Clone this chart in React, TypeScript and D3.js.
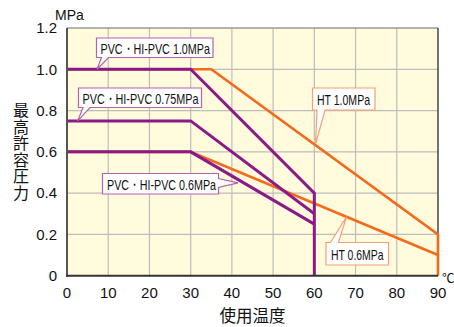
import React from "react";
import * as d3 from "d3";

const xTicks = [0, 10, 20, 30, 40, 50, 60, 70, 80, 90];
const yTicks = [0, 0.2, 0.4, 0.6, 0.8, 1.0, 1.2];
const yTickLabels = ["0", "0.2", "0.4", "0.6", "0.8", "1.0", "1.2"];

const pvc10T = [0, 30, 60, 60];
const pvc10P = [1.0, 1.0, 0.4, 0];
const pvc075T = [0, 30, 60];
const pvc075P = [0.75, 0.75, 0.3];
const pvc06T = [0, 30, 60];
const pvc06P = [0.6, 0.6, 0.25];
const ht10T = [0, 35, 90, 90];
const ht10P = [1.0, 1.0, 0.2, 0];
const ht06T = [0, 30, 90];
const ht06P = [0.6, 0.6, 0.1];

const labels = ["PVC・HI-PVC  1.0MPa", "PVC・HI-PVC  0.75MPa", "PVC・HI-PVC  0.6MPa", "HT 1.0MPa", "HT 0.6MPa"];
const labelTipT = [7.3, 2.6, 41.5, 60.3, 67.8];
const labelTipP = [1.0, 0.75, 0.45, 0.637, 0.285];

const PURPLE = "#8A1A88";
const ORANGE = "#F26A1A";
const PURPLE_BOX = "#B262B2";
const ORANGE_BOX = "#F5A070";

const W = 454, H = 327;
const x = d3.scaleLinear().domain([0, 90]).range([67, 438]);
const y = d3.scaleLinear().domain([0, 1.2]).range([275.7, 28]);

const zip = (t: number[], p: number[]) => t.map((v, i) => [v, p[i]] as [number, number]);
const line = d3.line<[number, number]>().x(d => x(d[0])).y(d => y(d[1]));

type Box = { x0: number; y0: number; x1: number; y1: number; side: string; b0: number; b1: number; tx: number; ty: number; stroke: string; textX: number; textBase: number; textLen: number };

function calloutPath(b: Box) {
  const { x0, y0, x1, y1, b0, b1, tx, ty } = b;
  if (b.side === "bottom") return `M${x0},${y0}H${x1}V${y1}H${b1}L${tx},${ty}L${b0},${y1}H${x0}Z`;
  if (b.side === "top") return `M${x0},${y0}H${b0}L${tx},${ty}L${b1},${y0}H${x1}V${y1}H${x0}Z`;
  return `M${x0},${y0}H${x1}V${b0}L${tx},${ty}L${x1},${b1}V${y1}H${x0}Z`;
}

export default function App() {
  const boxes: Box[] = [
    { x0: 96.5, y0: 38, x1: 213, y1: 57.5, side: "bottom", b0: 101.5, b1: 108.5, tx: x(labelTipT[0]), ty: y(labelTipP[0]), stroke: PURPLE_BOX, textX: 100.5, textBase: 53.5, textLen: 109.5 },
    { x0: 78.5, y0: 88, x1: 201.5, y1: 107.5, side: "bottom", b0: 83, b1: 90, tx: x(labelTipT[1]), ty: y(labelTipP[1]), stroke: PURPLE_BOX, textX: 82.5, textBase: 103.5, textLen: 116 },
    { x0: 102.5, y0: 173.5, x1: 218.5, y1: 194, side: "right", b0: 178.5, b1: 187.5, tx: x(labelTipT[2]), ty: y(labelTipP[2]), stroke: PURPLE_BOX, textX: 107, textBase: 189.5, textLen: 109 },
    { x0: 312.5, y0: 88, x1: 375, y1: 110, side: "bottom", b0: 317, b1: 325, tx: x(labelTipT[3]), ty: y(labelTipP[3]), stroke: ORANGE_BOX, textX: 317, textBase: 105, textLen: 53 },
    { x0: 326, y0: 242.5, x1: 388.5, y1: 265, side: "top", b0: 330.5, b1: 338.5, tx: x(labelTipT[4]), ty: y(labelTipP[4]), stroke: ORANGE_BOX, textX: 331, textBase: 260, textLen: 52.5 },
  ];
  const font = "'Liberation Sans', Arial, Helvetica, sans-serif";
  const cjk = "'Noto Sans CJK JP', 'Noto Sans CJK SC', sans-serif";
  return (
    <svg width={W} height={H} viewBox={`0 0 ${W} ${H}`} style={{ position: "absolute", left: 0, top: 0, background: "#fff" }}>
      <rect x={x(0)} y={y(1.2)} width={x(90) - x(0)} height={y(0) - y(1.2)} fill="#FFFBDC" />
      {xTicks.slice(1, -1).map(t => (
        <line key={"gx" + t} x1={x(t)} x2={x(t)} y1={y(0)} y2={y(1.2)} stroke="#BDBDBD" strokeWidth={1.2} />
      ))}
      {yTicks.slice(1, -1).map(t => (
        <line key={"gy" + t} x1={x(0)} x2={x(90)} y1={y(t)} y2={y(t)} stroke="#BDBDBD" strokeWidth={1.2} />
      ))}
      <line x1={x(0)} x2={x(90)} y1={y(1.2)} y2={y(1.2)} stroke="#9a9a9a" strokeWidth={1.5} />
      <line x1={x(90)} x2={x(90)} y1={y(0)} y2={y(1.2)} stroke="#444" strokeWidth={1.5} />
      <path d={line(zip(ht10T, ht10P)) || ""} fill="none" stroke={ORANGE} strokeWidth={2.6} />
      <path d={line(zip(ht06T, ht06P)) || ""} fill="none" stroke={ORANGE} strokeWidth={2.6} />
      <path d={line(zip(pvc06T, pvc06P)) || ""} fill="none" stroke={PURPLE} strokeWidth={3} />
      <path d={line(zip(pvc075T, pvc075P)) || ""} fill="none" stroke={PURPLE} strokeWidth={3} />
      <path d={line(zip(pvc10T, pvc10P)) || ""} fill="none" stroke={PURPLE} strokeWidth={3} />
      <line x1={x(0)} x2={x(0)} y1={y(0) + 1} y2={y(1.2)} stroke="#555" strokeWidth={2} />
      <line x1={x(0) - 1} x2={x(90)} y1={y(0)} y2={y(0)} stroke="#333" strokeWidth={2} />
      {boxes.map((b, i) => (
        <g key={"b" + i}>
          <path d={calloutPath(b)} fill="#fff" stroke={b.stroke} strokeWidth={1.2} />
          <text x={b.textX} y={b.textBase} fontFamily={font} fontSize={15} textLength={b.textLen} lengthAdjust="spacingAndGlyphs" fill="#111">{labels[i]}</text>
        </g>
      ))}
      {yTicks.map((t, i) => (
        <text key={"yl" + t} x={57} y={y(t) + 5.3} textAnchor="end" fontFamily={font} fontSize={15} fill="#111">{yTickLabels[i]}</text>
      ))}
      {xTicks.map(t => (
        <text key={"xl" + t} x={x(t)} y={297.5} textAnchor="middle" fontFamily={font} fontSize={15} fill="#111">{t}</text>
      ))}
      <text x={55} y={20} fontFamily={font} fontSize={14} fill="#111">MPa</text>
      <text x={442} y={283} fontFamily={cjk} fontSize={12.5} fill="#111">℃</text>
      <text x={252.5} y={322} textAnchor="middle" fontFamily={cjk} fontSize={16.5} fill="#111">使用温度</text>
      <text x={21} y={102} fontFamily={cjk} fontSize={16} letterSpacing={0.5} fill="#111" style={{ writingMode: "vertical-rl" }}>最高許容圧力</text>
    </svg>
  );
}
